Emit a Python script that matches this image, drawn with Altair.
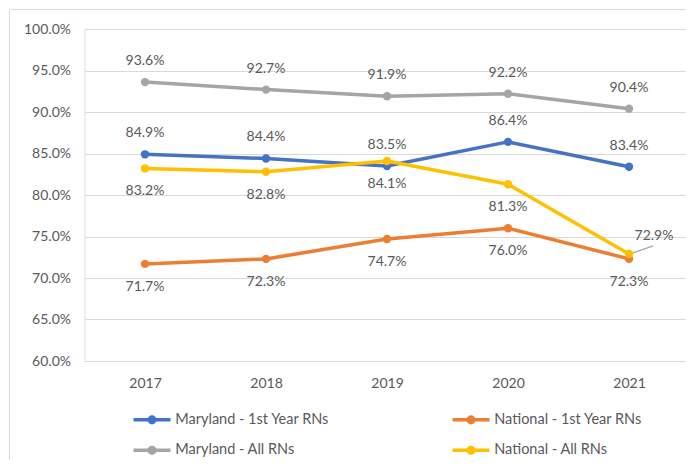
import altair as alt
import pandas as pd

years = ["2017", "2018", "2019", "2020", "2021"]
series_names = [
    "Maryland - 1st Year RNs",
    "National  - 1st Year RNs",
    "Maryland - All RNs",
    "National - All RNs",
]
md_first = [84.9, 84.4, 83.5, 86.4, 83.4]
nat_first = [71.7, 72.3, 74.7, 76.0, 72.3]
md_all = [93.6, 92.7, 91.9, 92.2, 90.4]
nat_all = [83.2, 82.8, 84.1, 81.3, 72.9]
colors = ["#4472C4", "#ED7D31", "#A5A5A5", "#FFC000"]
y_ticks = [0.60, 0.65, 0.70, 0.75, 0.80, 0.85, 0.90, 0.95, 1.00]

rows = []
for name, vals in zip(series_names, [md_first, nat_first, md_all, nat_all]):
    for yr, v in zip(years, vals):
        rows.append({"Year": yr, "Series": name, "Value": round(v / 100, 4)})
df = pd.DataFrame(rows)

# legend is laid out column by column: col 1 = Maryland, col 2 = National
legend_order = [series_names[0], series_names[2], series_names[1], series_names[3]]
legend_colors = [colors[0], colors[2], colors[1], colors[3]]

FONT = "Lato"
TXT = "#595959"

x = alt.X(
    "Year:O",
    scale=alt.Scale(type="point", padding=0.4855, align=0.515),
    axis=alt.Axis(title=None, labelAngle=0, ticks=False, domain=False, grid=False,
                  labelPadding=15, labelFontSize=14, labelColor=TXT, labelFont=FONT),
)
y = alt.Y(
    "Value:Q",
    scale=alt.Scale(domain=[0.6, 1.0], nice=False),
    axis=alt.Axis(values=y_ticks, format=".1%", title=None, domain=False, ticks=False,
                  labelPadding=14, labelFontSize=14, labelColor=TXT, labelFont=FONT,
                  gridColor="#D9D9D9", gridWidth=1),
)

legend_path = ("M-2,0L2,0M-0.3,0A0.3,0.3,0,1,0,0.3,0A0.3,0.3,0,1,0,-0.3,0Z")
color = alt.Color(
    "Series:N",
    scale=alt.Scale(domain=legend_order, range=legend_colors),
    legend=alt.Legend(
        title=None, orient="none", legendX=56.5, legendY=379.75, columns=2,
        columnPadding=115, rowPadding=9.5, padding=0,
        symbolType=legend_path, symbolSize=342, symbolStrokeWidth=3.5,
        labelOffset=12.25, labelFontSize=14.5, labelColor=TXT, labelFont=FONT,
        labelLimit=400, symbolOpacity=1,
    ),
)

base = alt.Chart(df)

layers = []
border = alt.Chart(alt.Data(values=[{"a": 1}])).mark_rect(
    fillOpacity=0, stroke="#D9D9D9", strokeWidth=1
).encode(x=alt.value(-75), x2=alt.value(700), y=alt.value(-19.5), y2=alt.value(500))
layers.append(border)

for name in series_names:
    sel = base.transform_filter(alt.datum.Series == name)
    layers.append(sel.mark_line(strokeWidth=3.5, strokeJoin="round", strokeCap="round").encode(x=x, y=y, color=color))
    layers.append(sel.mark_point(filled=True, size=70, opacity=1).encode(x=x, y=y, color=color))

above = [series_names[0], series_names[2]]
below = [series_names[1], series_names[3]]
text_enc = dict(x=x, y=y, text=alt.Text("Value:Q", format=".1%"))

layers.append(
    base.mark_text(dy=-21, fontSize=14, color=TXT, font=FONT)
    .encode(**text_enc)
    .transform_filter(alt.FieldOneOfPredicate(field="Series", oneOf=above))
)
layers.append(
    base.mark_text(dy=23, fontSize=14, color=TXT, font=FONT)
    .encode(**text_enc)
    .transform_filter(alt.FieldOneOfPredicate(field="Series", oneOf=below))
    .transform_filter(~((alt.datum.Series == series_names[3]) & (alt.datum.Year == "2021")))
)
special = base.transform_filter((alt.datum.Series == series_names[3]) & (alt.datum.Year == "2021"))
layers.append(
    special.mark_rule(color="#A6A6A6", strokeWidth=1.2, xOffset=4, yOffset=-1, x2Offset=24, y2Offset=-8)
    .encode(x=x, y=y, x2=alt.X2("Year:O"), y2=alt.Y2("Value:Q"))
)
layers.append(
    special.mark_text(dx=25, dy=-18, fontSize=14, color=TXT, font=FONT).encode(**text_enc)
)

chart = alt.layer(*layers).properties(
    width=601.5, height=332,
    autosize=alt.AutoSizeParams(type="none"),
    padding={"left": 76.5, "top": 21, "right": 0, "bottom": 99},
).configure_view(stroke=None).configure(background="white", font=FONT)

chart.save("out.html", embed_options={"renderer": "svg", "actions": False})
